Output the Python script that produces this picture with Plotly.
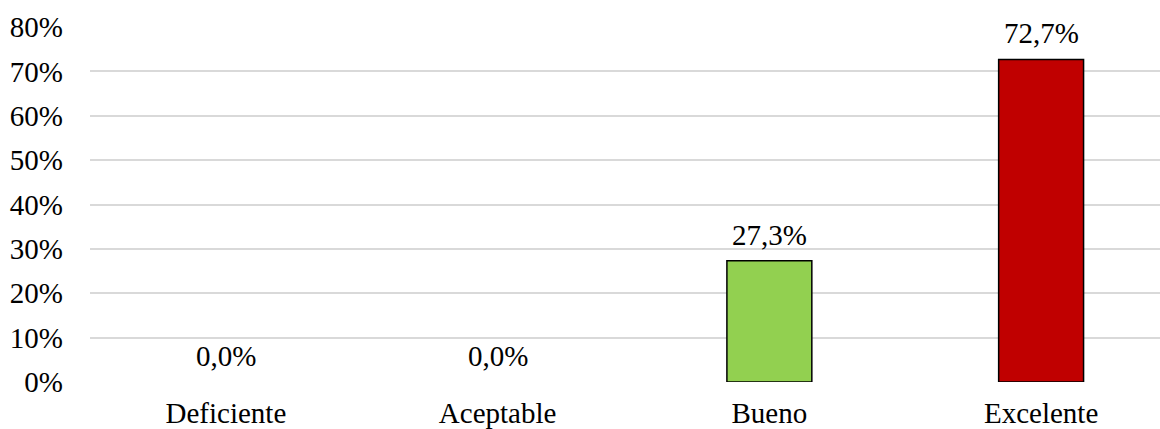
import plotly.graph_objects as go

categories = ["Deficiente", "Aceptable", "Bueno", "Excelente"]
values = [0.0, 0.0, 0.273, 0.727]
labels = ["0,0%", "0,0%", "27,3%", "72,7%"]
colors = ["#92D050", "#92D050", "#92D050", "#C00000"]
y_ticks = [0, 0.1, 0.2, 0.3, 0.4, 0.5, 0.6, 0.7, 0.8]
y_tick_text = ["0%", "10%", "20%", "30%", "40%", "50%", "60%", "70%", "80%"]

FONT = "Liberation Serif, Times New Roman, serif"
FS = 29

fig = go.Figure()
fig.add_trace(go.Bar(
    x=list(range(len(categories))),
    y=values,
    width=0.3125,
    marker=dict(color=colors, line=dict(color="black", width=[0 if v == 0 else 1.5 for v in values])),
    hoverinfo="skip",
))

for i, (v, t) in enumerate(zip(values, labels)):
    fig.add_annotation(x=i, y=v, text=t, showarrow=False, xref="x", yref="y",
                       yanchor="middle", yshift=26,
                       font=dict(family=FONT, size=FS, color="black"))

fig.update_layout(
    width=1160, height=429,
    margin=dict(l=90, r=0, t=27, b=47),
    paper_bgcolor="white", plot_bgcolor="white",
    showlegend=False,
    font=dict(family=FONT, size=FS, color="black"),
    xaxis=dict(
        range=[-0.5, 3.4375],
        tickmode="array",
        tickvals=list(range(len(categories))),
        ticktext=categories,
        showgrid=False,
        zeroline=False,
        showline=False,
        ticks="",
        ticklabelstandoff=11,
        tickfont=dict(family=FONT, size=FS, color="black"),
    ),
    yaxis=dict(
        range=[0, 0.8],
        tickmode="array",
        tickvals=y_ticks,
        ticktext=y_tick_text,
        showgrid=True,
        gridcolor="#D9D9D9",
        gridwidth=1.5,
        zeroline=False,
        showline=False,
        ticks="",
        ticklabelstandoff=26,
        tickfont=dict(family=FONT, size=FS, color="black"),
    ),
)

fig.write_html("out.html")
